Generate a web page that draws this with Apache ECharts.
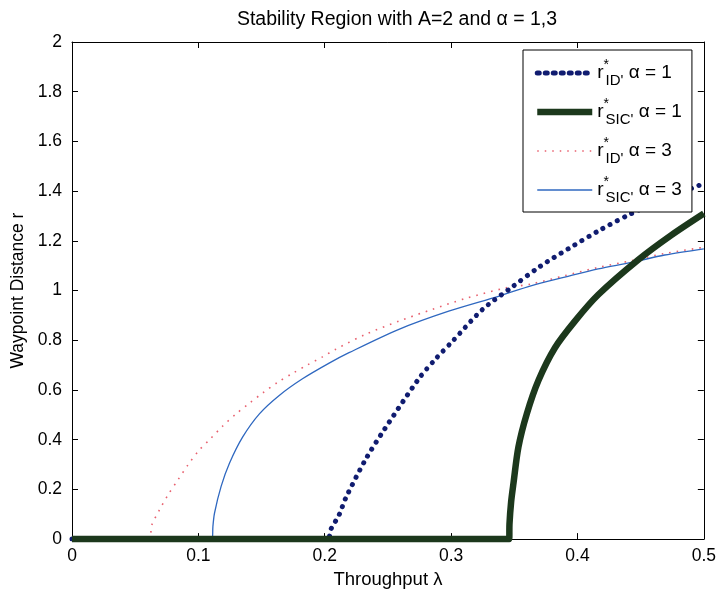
<!DOCTYPE html>
<html>
<head>
<meta charset="utf-8">
<script src="https://cdn.jsdelivr.net/npm/echarts@6/dist/echarts.min.js"></script>
<style>
  html, body { margin: 0; padding: 0; background: #fff; }
  #chart { width: 719px; height: 594px; }
</style>
</head>
<body>
<div id="chart"></div>
<script>
// values
var xTicks = [0, 0.1, 0.2, 0.3, 0.4, 0.5];
var yTicks = [0, 0.2, 0.4, 0.6, 0.8, 1, 1.2, 1.4, 1.6, 1.8, 2];

// r*_ID, alpha = 1
var lamIdA1 = [0, 0.202, 0.2048, 0.2114, 0.2166, 0.2324, 0.2468, 0.2744, 0.2876, 0.3013, 0.3249, 0.348, 0.3704, 0.3941, 0.4177, 0.4427, 0.469, 0.5];
var rIdA1   = [0, 0,     0.039,  0.098,  0.165,  0.321,  0.438,  0.645,  0.724,  0.797,  0.924,  1.013, 1.097,  1.172,  1.243,  1.31,   1.37,  1.43];

// r*_SIC, alpha = 1
var lamSicA1 = [0, 0.346, 0.3462, 0.3475, 0.3494, 0.3533, 0.3599, 0.3691, 0.3822, 0.398, 0.4164, 0.4479, 0.4743, 0.5];
var rSicA1   = [0, 0,     0.06,   0.15,   0.226,  0.371,  0.504,  0.638,  0.77,   0.877, 0.983,  1.123,  1.223,  1.31];

// r*_ID, alpha = 3
var lamIdA3 = [0, 0.06, 0.0633, 0.0694, 0.076, 0.0838, 0.0917, 0.1002, 0.1096, 0.1193, 0.1299, 0.1404, 0.1509, 0.1628, 0.1746, 0.1864, 0.1982, 0.2088, 0.2324, 0.2587, 0.285, 0.3113, 0.3428, 0.3638, 0.39, 0.4164, 0.4427, 0.469, 0.5];
var rIdA3   = [0, 0,    0.059,  0.119,  0.178, 0.238,  0.298,  0.355,  0.404,  0.455,  0.504,  0.547,  0.588,  0.631,  0.667,  0.701,  0.733,  0.764,  0.824,  0.877,  0.924, 0.968,  1.01,   1.027,  1.06, 1.093,  1.12,   1.149, 1.174];

// r*_SIC, alpha = 3
var lamSicA3 = [0, 0.111, 0.1115, 0.1128, 0.118, 0.1246, 0.1351, 0.1483, 0.164, 0.1824, 0.2035, 0.2192, 0.2587, 0.2981, 0.3375, 0.3638, 0.39,  0.4164, 0.4427, 0.469, 0.5];
var rSicA3   = [0, 0,     0.05,   0.105,  0.212, 0.305,  0.411,  0.504,  0.578, 0.645,  0.708,  0.75,   0.844,  0.917,  0.977,  1.02,   1.054, 1.087,  1.113,  1.143, 1.168];

function pairs(xs, ys) {
  return xs.map(function (x, i) { return [x, ys[i]]; });
}

var font = "'Liberation Sans', Arial, Helvetica, sans-serif";

var legendText = {
  idA1: "{r|r}{sup|*}{sub|ID'}{t| α = 1}",
  sicA1: "{r|r}{sup|*}{sub|SIC'}{t| α = 1}",
  idA3: "{r|r}{sup|*}{sub|ID'}{t| α = 3}",
  sicA3: "{r|r}{sup|*}{sub|SIC'}{t| α = 3}"
};

var chart = echarts.init(document.getElementById("chart"));

var axisCommon = {
  axisLine: { onZero: false, lineStyle: { color: "#000", width: 1 } },
  axisTick: { inside: true, length: 6, lineStyle: { color: "#000" } },
  splitLine: { show: false }
};

var option = {
  backgroundColor: "#fff",
  animation: false,
  title: {
    text: "Stability Region with A=2 and α = 1,3",
    left: 392,
    top: 5,
    textAlign: "center",
    textStyle: { fontFamily: font, fontSize: 19.5, fontWeight: "normal", color: "#000" }
  },
  grid: { left: 72, right: 13, top: 42, bottom: 51 },
  legend: {
    orient: "vertical",
    left: 523,
    top: 50,
    padding: [8, 10, 7, 11],
    itemGap: 9,
    itemWidth: 55,
    itemHeight: 14,
    borderColor: "#000",
    borderWidth: 1,
    backgroundColor: "#fff",
    itemStyle: { opacity: 0 },
    data: [
      { name: "idA1", lineStyle: { color: "#101c70", width: 5, type: [2, 6] } },
      { name: "sicA1", lineStyle: { color: "#1c381c", width: 6.5 } },
      { name: "idA3", lineStyle: { color: "#e8606e", width: 1.5, type: [1.5, 6] } },
      { name: "sicA3", lineStyle: { color: "#2f68c0", width: 1.3 } }
    ],
    formatter: function (name) { return legendText[name]; },
    textStyle: {
      fontFamily: font,
      color: "#000",
      rich: {
        r: { fontFamily: font, fontSize: 19, lineHeight: 30, verticalAlign: "middle" },
        sup: { fontFamily: font, fontSize: 14, verticalAlign: "top", width: 2 },
        sub: { fontFamily: font, fontSize: 15, verticalAlign: "bottom" },
        t: { fontFamily: font, fontSize: 19, verticalAlign: "middle" }
      }
    }
  },
  xAxis: [
    Object.assign({
      type: "value",
      min: 0, max: 0.5, interval: 0.1,
      position: "bottom",
      name: "Throughput λ",
      nameLocation: "middle",
      nameGap: 27,
      nameTextStyle: { fontFamily: font, fontSize: 18.5, color: "#000" },
      axisLabel: {
        margin: 8,
        fontFamily: font, fontSize: 17.5, color: "#000",
        formatter: function (v) { var t = Math.round(v * 10) / 10; return xTicks.indexOf(t) >= 0 ? String(t) : ""; }
      }
    }, axisCommon),
    Object.assign({
      type: "value",
      min: 0, max: 0.5, interval: 0.1,
      position: "top",
      axisLabel: { show: false }
    }, axisCommon)
  ],
  yAxis: [
    Object.assign({
      type: "value",
      min: 0, max: 2, interval: 0.2,
      position: "left",
      name: "Waypoint Distance r",
      nameLocation: "middle",
      nameGap: 39,
      nameTextStyle: { fontFamily: font, fontSize: 17.5, color: "#000" },
      axisLabel: {
        margin: 10,
        fontFamily: font, fontSize: 17.5, color: "#000",
        formatter: function (v) { var t = Math.round(v * 10) / 10; return yTicks.indexOf(t) >= 0 ? String(t) : ""; }
      }
    }, axisCommon),
    Object.assign({
      type: "value",
      min: 0, max: 2, interval: 0.2,
      position: "right",
      axisLabel: { show: false }
    }, axisCommon)
  ],
  series: [
    {
      name: "idA1",
      type: "line",
      data: pairs(lamIdA1, rIdA1),
      symbol: "none",
      smooth: 0.3,
      color: "#101c70",
      lineStyle: { color: "#101c70", width: 5, type: [0.1, 8], cap: "round" },
      z: 3
    },
    {
      name: "sicA1",
      type: "line",
      data: pairs(lamSicA1, rSicA1),
      symbol: "none",
      smooth: 0.3,
      clip: false,
      color: "#1c381c",
      lineStyle: { color: "#1c381c", width: 6.5, join: "round" },
      z: 4
    },
    {
      name: "idA3",
      type: "line",
      data: pairs(lamIdA3, rIdA3),
      symbol: "none",
      smooth: 0.3,
      color: "#e8606e",
      lineStyle: { color: "#e8606e", width: 1.6, type: [1.6, 6] },
      z: 2
    },
    {
      name: "sicA3",
      type: "line",
      data: pairs(lamSicA3, rSicA3),
      symbol: "none",
      smooth: 0.3,
      color: "#2f68c0",
      lineStyle: { color: "#2f68c0", width: 1.3 },
      z: 2
    }
  ]
};

chart.setOption(option);
</script>
</body>
</html>
